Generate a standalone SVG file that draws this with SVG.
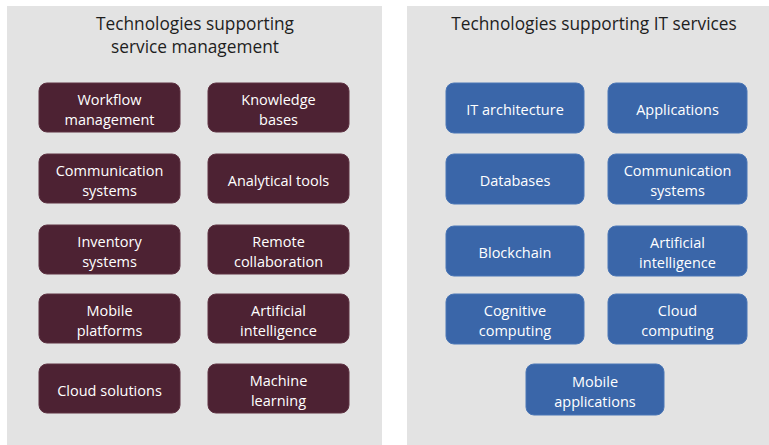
<svg xmlns="http://www.w3.org/2000/svg" width="769" height="445" viewBox="0 0 769 445">
<style>
.panel{fill:#e3e3e3}
.title{font-family:"Open Sans","Noto Sans",sans-serif;font-size:17.3px;font-weight:500;fill:#1e1e1e;text-anchor:middle}
.m rect{fill:#4d2233;stroke:#5e3242;stroke-width:1}
.b rect{fill:#3a66a9;stroke:#4a76b6;stroke-width:1}
.lbl{font-family:"Open Sans","Noto Sans",sans-serif;font-size:14.5px;font-weight:500;fill:#ffffff;text-anchor:middle}
</style>
<rect width="769" height="445" fill="#ffffff"/>
<rect class="panel" x="7" y="6" width="375" height="439"/>
<rect class="panel" x="407" y="6" width="362" height="439"/>
<text class="title" x="195" y="30">Technologies supporting</text>
<text class="title" x="195" y="53">service management</text>
<text class="title" x="594" y="30">Technologies supporting IT services</text>

<g id="workflow" class="m"><rect x="39" y="83" width="141" height="49" rx="8"/><text class="lbl" x="109.5" y="105">Workflow</text><text class="lbl" x="109.5" y="124.5">management</text></g>
<g id="knowledge" class="m"><rect x="208" y="83" width="141" height="49" rx="8"/><text class="lbl" x="278.5" y="105">Knowledge</text><text class="lbl" x="278.5" y="124.5">bases</text></g>
<g id="comm-sys-l" class="m"><rect x="39" y="154" width="141" height="49" rx="8"/><text class="lbl" x="109.5" y="176">Communication</text><text class="lbl" x="109.5" y="195.5">systems</text></g>
<g id="analytical" class="m"><rect x="208" y="154" width="141" height="49" rx="8"/><text class="lbl" x="278.5" y="185.5">Analytical tools</text></g>
<g id="inventory" class="m"><rect x="39" y="225" width="141" height="49" rx="8"/><text class="lbl" x="109.5" y="247">Inventory</text><text class="lbl" x="109.5" y="266.5">systems</text></g>
<g id="remote" class="m"><rect x="208" y="225" width="141" height="49" rx="8"/><text class="lbl" x="278.5" y="247">Remote</text><text class="lbl" x="278.5" y="266.5">collaboration</text></g>
<g id="mobile-platforms" class="m"><rect x="39" y="294" width="141" height="49" rx="8"/><text class="lbl" x="109.5" y="316">Mobile</text><text class="lbl" x="109.5" y="335.5">platforms</text></g>
<g id="ai-l" class="m"><rect x="208" y="294" width="141" height="49" rx="8"/><text class="lbl" x="278.5" y="316">Artificial</text><text class="lbl" x="278.5" y="335.5">intelligence</text></g>
<g id="cloud-solutions" class="m"><rect x="39" y="364" width="141" height="49" rx="8"/><text class="lbl" x="109.5" y="395.5">Cloud solutions</text></g>
<g id="ml" class="m"><rect x="208" y="364" width="141" height="49" rx="8"/><text class="lbl" x="278.5" y="386">Machine</text><text class="lbl" x="278.5" y="405.5">learning</text></g>

<g id="it-arch" class="b"><rect x="446" y="83" width="138" height="50" rx="8"/><text class="lbl" x="515" y="114.5">IT architecture</text></g>
<g id="applications" class="b"><rect x="608" y="83" width="139" height="50" rx="8"/><text class="lbl" x="677.5" y="114.5">Applications</text></g>
<g id="databases" class="b"><rect x="446" y="154" width="138" height="50" rx="8"/><text class="lbl" x="515" y="185.5">Databases</text></g>
<g id="comm-sys-r" class="b"><rect x="608" y="154" width="139" height="50" rx="8"/><text class="lbl" x="677.5" y="176">Communication</text><text class="lbl" x="677.5" y="195.5">systems</text></g>
<g id="blockchain" class="b"><rect x="446" y="226" width="138" height="50" rx="8"/><text class="lbl" x="515" y="257.5">Blockchain</text></g>
<g id="ai-r" class="b"><rect x="608" y="226" width="139" height="50" rx="8"/><text class="lbl" x="677.5" y="248">Artificial</text><text class="lbl" x="677.5" y="267.5">intelligence</text></g>
<g id="cognitive" class="b"><rect x="446" y="294" width="138" height="50" rx="8"/><text class="lbl" x="515" y="316">Cognitive</text><text class="lbl" x="515" y="335.5">computing</text></g>
<g id="cloud-computing" class="b"><rect x="608" y="294" width="139" height="50" rx="8"/><text class="lbl" x="677.5" y="316">Cloud</text><text class="lbl" x="677.5" y="335.5">computing</text></g>
<g id="mobile-apps" class="b"><rect x="526" y="364" width="138" height="51" rx="8"/><text class="lbl" x="595" y="387">Mobile</text><text class="lbl" x="595" y="406.5">applications</text></g>
<g id="connectors"></g>
</svg>
